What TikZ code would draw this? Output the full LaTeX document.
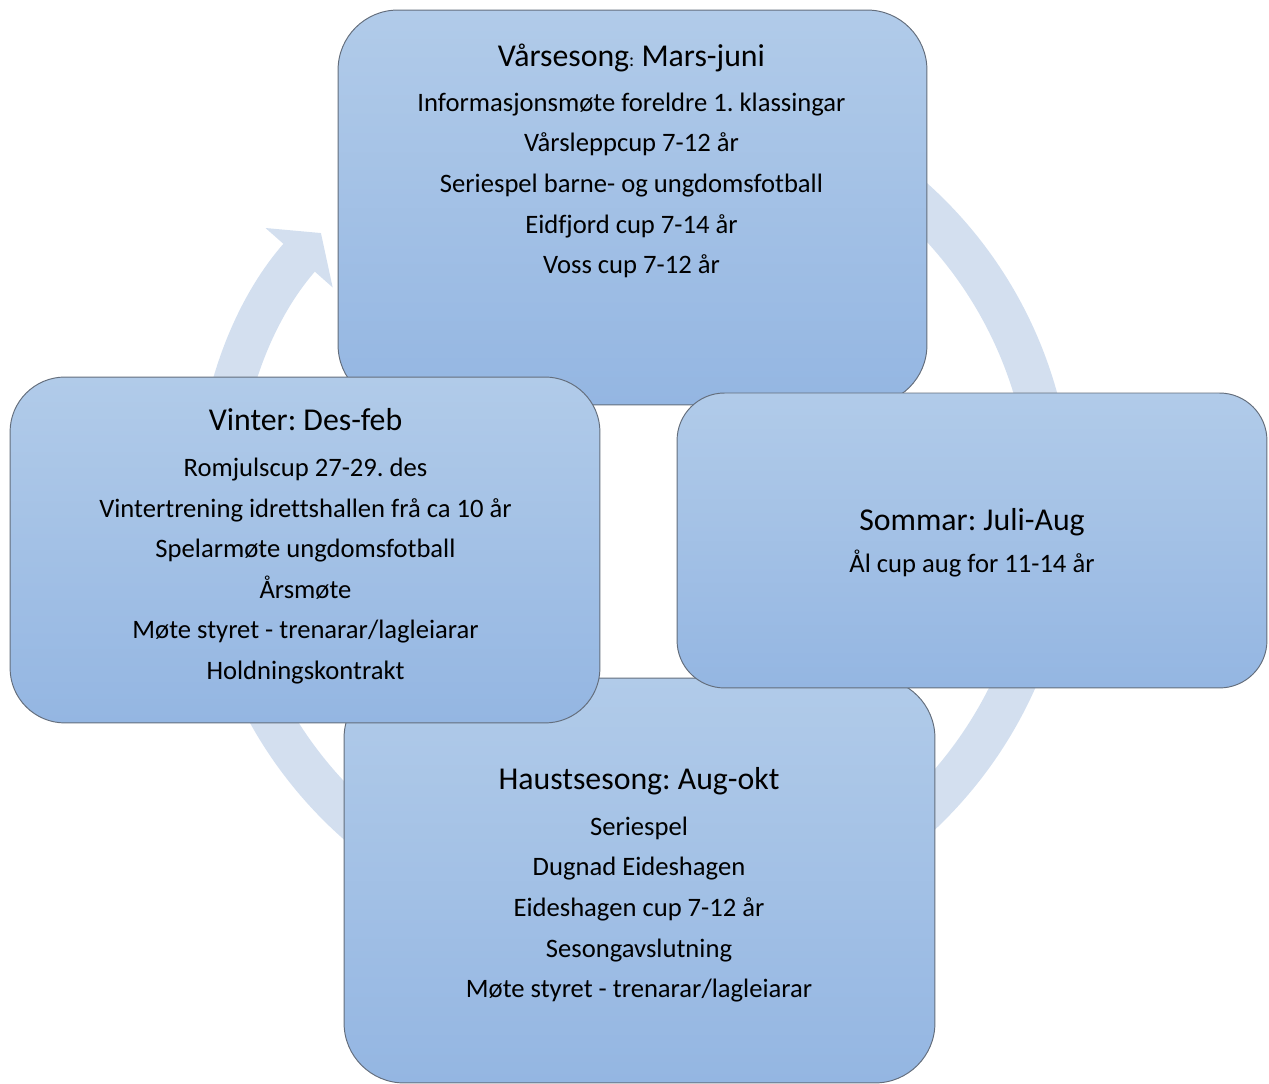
\documentclass[tikz,border=0pt]{standalone}
\usepackage{fontspec}
\setmainfont{Carlito}[Ligatures={TeX,NoCommon}]
\usetikzlibrary{arrows.meta}
\definecolor{pil}{RGB}{211,223,239}
\definecolor{lys}{RGB}{177,203,233}
\definecolor{mork}{RGB}{148,182,226}
\definecolor{kant}{RGB}{100,110,124}
\frenchspacing

\begin{document}
\begin{tikzpicture}[x=0.02cm, y=0.02cm,
    boks/.style={draw=kant, line width=0.55pt, top color=lys, bottom color=mork, inner sep=0pt},
    tittel/.style={font=\fontsize{18.1}{22}\selectfont, inner sep=0pt},
    liste/.style={font=\fontsize{15.15}{23.1}\selectfont, align=center, inner sep=0pt}]
    \useasboundingbox (0,0) rectangle (1269,1084);
    \begin{scope}
        \coordinate (midt) at (634,574);
        \draw[pil, line width=0.84cm, -{Triangle[length=0.66cm, width=1.76cm]}] (midt) ++(100:418) arc[start angle=100, end angle=-221.5, radius=418]; % sirkelpil

        \node[boks, minimum width=11.78cm, minimum height=7.9cm, rounded corners=1.2cm] (vaar) at (632.5,876.5) {};
        \node[tittel] (vaartittel) at (631.5,1026.5) {Vårsesong{\fontsize{11}{11}\selectfont:} Mars-juni};
        \node[liste] (vaarliste) at (631.5,898.5) {Informasjonsmøte foreldre 1. klassingar\\Vårsleppcup 7-12 år\\Seriespel barne- og ungdomsfotball\\Eidfjord cup 7-14 år\\Voss cup 7-12 år};

        \node[boks, minimum width=11.82cm, minimum height=8.1cm, rounded corners=1.2cm] (haust) at (639.5,203.5) {};
        \node[tittel] (hausttittel) at (639,303) {Haustsesong: Aug-okt};
        \node[liste] (haustliste) at (639,174.5) {Seriespel\\Dugnad Eideshagen\\Eideshagen cup 7-12 år\\Sesongavslutning\\Møte styret - trenarar/lagleiarar};

        \node[boks, minimum width=11.8cm, minimum height=5.9cm, rounded corners=0.95cm] (sommar) at (972,543.5) {};
        \node[tittel] (sommartittel) at (972,562) {Sommar: Juli-Aug};
        \node[liste] (sommarliste) at (972,520) {Ål cup aug for 11-14 år};

        \node[boks, minimum width=11.8cm, minimum height=6.92cm, rounded corners=1.1cm] (vinter) at (305,534) {};
        \node[tittel] (vintertittel) at (305.5,664) {Vinter: Des-feb};
        \node[liste] (vinterliste) at (305.5,513) {Romjulscup 27-29. des\\Vintertrening idrettshallen frå ca 10 år\\Spelarmøte ungdomsfotball\\Årsmøte\\Møte styret - trenarar/lagleiarar\\Holdningskontrakt};
    \end{scope}
\end{tikzpicture}
\end{document}
